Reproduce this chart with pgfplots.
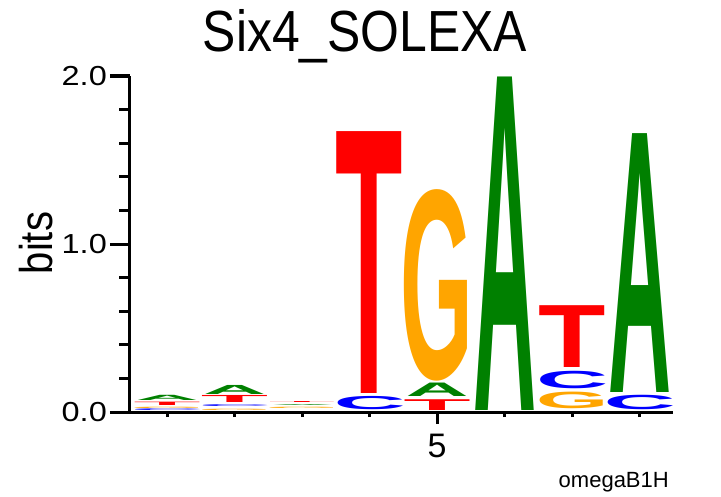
\documentclass[border=0pt]{standalone}
\usepackage{fontspec}
\setmainfont{Liberation Sans}
\newfontfamily\lfont{Liberation Sans}[BoldFont={Liberation Sans Bold}]
\usepackage{graphicx}
\usepackage{pgfplots}
\usepackage{pgfplotstable}
\pgfplotsset{compat=1.18}

% letter stacks: position, bottom and top in bits
\pgfplotstableread{
x bot top
1 0.064 0.095
2 0.101 0.155
3 0.032 0.038
5 0.085 0.165
6 0.002 1.986
8 0.109 1.649
}\tabA
\pgfplotstableread{
x bot top
1 0.000 0.010
2 0.026 0.037
4 0.010 0.089
7 0.135 0.239
8 0.010 0.096
}\tabC
\pgfplotstableread{
x bot top
1 0.017 0.025
2 0.002 0.010
3 0.012 0.020
5 0.175 1.315
7 0.016 0.115
}\tabG
\pgfplotstableread{
x bot top
1 0.035 0.055
2 0.049 0.091
3 0.048 0.054
4 0.105 1.663
5 0.002 0.066
7 0.259 0.627
}\tabT

\definecolor{lA}{RGB}{0,128,0}
\definecolor{lC}{RGB}{0,0,255}
\definecolor{lG}{RGB}{255,165,0}
\definecolor{lT}{RGB}{255,0,0}

\newcommand\ylab[1]{\scalebox{1.18}[1]{#1}}

\pgfplotsset{
  letter/.style n args={3}{
    draw=none, mark=none, color=#1,
    visualization depends on={168*(\thisrow{top}-\thisrow{bot}) \as \hh},
    nodes near coords={\resizebox*{#2}{\hh pt}{\lfont\bfseries #3}},
    every node near coord/.append style={anchor=south, inner sep=0pt,
      outer sep=0pt, yshift=1pt, text=#1},
  },
}

\begin{document}
\begin{tikzpicture}
\useasboundingbox (-130pt,-84pt) rectangle (591pt,412pt);
\begin{axis}[
  at={(0,0)}, anchor=south west,
  x=67.5pt, y=168pt,
  xmin=0.45, xmax=8.5, ymin=0, ymax=2,
  axis x line*=bottom, axis y line*=left,
  axis line style={line width=3pt},
  tick align=outside,
  tick style={line width=3pt, black},
  major tick length=20pt, minor tick length=10.7pt,
  major x tick style={/pgfplots/major tick length=12pt},
  minor x tick style={/pgfplots/minor tick length=5pt},
  xtick={5}, xticklabels={5},
  minor xtick={1,2,3,4,6,7,8},
  ytick={0,1,2}, yticklabels={\ylab{0.0},\ylab{1.0},\ylab{2.0}},
  minor ytick={0.2,0.4,0.6,0.8,1.2,1.4,1.6,1.8},
  yticklabel style={font=\fontsize{27.5}{30}\selectfont, inner sep=3pt},
  xticklabel style={font=\fontsize{34}{36}\selectfont, inner sep=2pt},
  clip=false,
]
\addplot[letter={lA}{63pt}{A}] table[x=x, y=bot] {\tabA};
\addplot[letter={lC}{72.2pt}{C}] table[x=x, y=bot] {\tabC};
\addplot[letter={lG}{72.7pt}{G}] table[x=x, y=bot] {\tabG};
\addplot[letter={lT}{67.3pt}{T}] table[x=x, y=bot] {\tabT};
\end{axis}
\node[anchor=base] at (235pt,360pt)
  {\scalebox{0.86}[1]{\fontsize{58}{60}\selectfont Six4\_SOLEXA}};
\node[rotate=90, inner sep=0pt] at (-94pt,169pt)
  {\scalebox{0.87}[1]{\fontsize{46}{48}\selectfont bits}};
\node[anchor=base east, inner sep=0pt] at (539pt,-75pt)
  {\fontsize{22}{24}\selectfont omegaB1H};
\end{tikzpicture}
\end{document}
